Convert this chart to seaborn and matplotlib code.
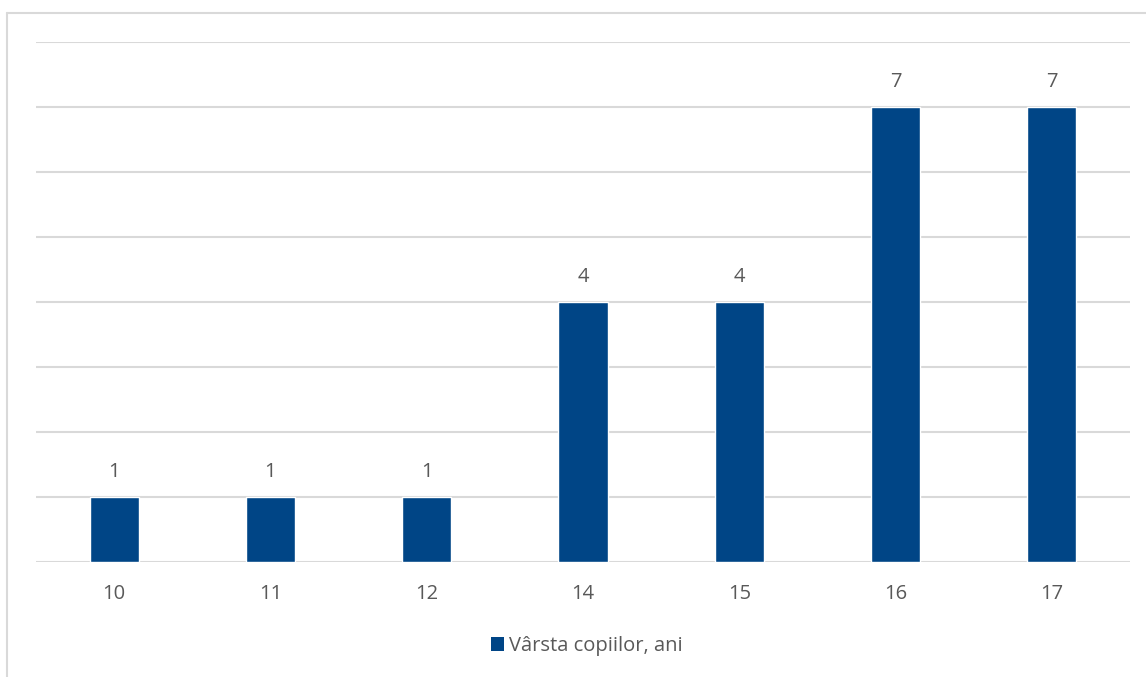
import matplotlib
matplotlib.use("Agg")
import matplotlib.pyplot as plt
from matplotlib.lines import Line2D
import seaborn as sns
import pandas as pd

ages = ["10", "11", "12", "14", "15", "16", "17"]
counts = [1, 1, 1, 4, 4, 7, 7]
series_name = "Vârsta copiilor, ani"

bar_color = "#004586"
text_color = "#595959"
grid_color = "#d9d9d9"

sns.set_theme(style="white")
plt.rcParams["font.family"] = ["Open Sans", "DejaVu Sans"]

df = pd.DataFrame({"age": ages, "count": counts, "series": series_name})

fig = plt.figure(figsize=(11.46, 6.77), dpi=100)
W, H = 1146, 677
ax = fig.add_axes([36 / W, 1 - 562 / H, (1130 - 36) / W, (562 - 42) / H])

sns.barplot(data=df, x="age", y="count", hue="series", palette=[bar_color],
            width=0.314, ax=ax, saturation=1, legend=False)

ax.set_ylim(0, 8)
ax.set_xlim(-0.5, len(ages) - 0.5)
ax.set_yticks(range(0, 9))
ax.set_yticklabels([])
ax.tick_params(axis="y", length=0)
ax.tick_params(axis="x", length=0, labelsize=14.5, colors=text_color, pad=16)
ax.yaxis.grid(True, color=grid_color, linewidth=1.5)
ax.set_axisbelow(True)
for s in ax.spines.values():
    s.set_visible(False)
ax.set_xlabel("")
ax.set_ylabel("")

for container in ax.containers:
    ax.bar_label(container, labels=[str(v) for v in counts], padding=11,
                 fontsize=14.5, color=text_color)

# legend below the plot area
handle = plt.Rectangle((0, 0), 1, 1, facecolor=bar_color, edgecolor="none")
fig.legend([handle], [series_name], loc="center", bbox_to_anchor=(587 / W, 1 - 646 / H),
           frameon=False, fontsize=14.5, labelcolor=text_color, handlelength=0.65,
           handleheight=0.65, handletextpad=0.25)

# chart area border (top and left edges)
fig.add_artist(Line2D([6.5 / W, 1.0], [1 - 12.5 / H, 1 - 12.5 / H],
                      transform=fig.transFigure, color=grid_color, linewidth=1.5))
fig.add_artist(Line2D([6.5 / W, 6.5 / W], [0, 1 - 12.5 / H],
                      transform=fig.transFigure, color=grid_color, linewidth=1.5))

fig.savefig("out.png", dpi=100, facecolor="white")
